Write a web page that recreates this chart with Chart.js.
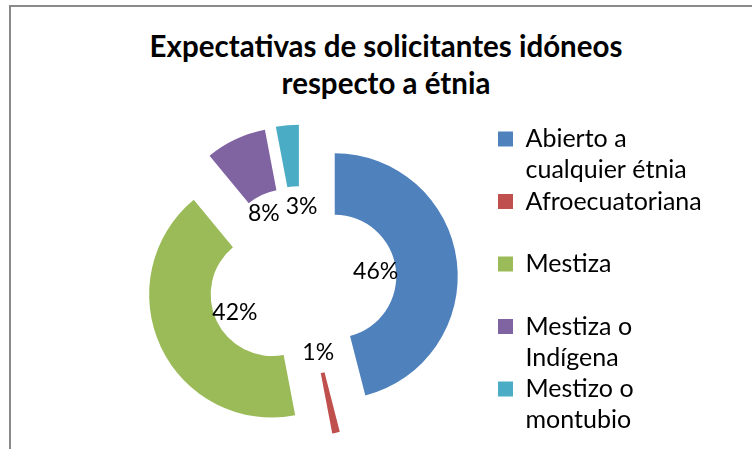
<!DOCTYPE html>
<html>
<head>
<meta charset="utf-8">
<script src="https://cdn.jsdelivr.net/npm/chart.js@4.4.1/dist/chart.umd.min.js"></script>
<style>
  html, body { margin: 0; padding: 0; background: #fff; overflow: hidden; }
  #wrap { position: relative; width: 752px; height: 449px; overflow: hidden; }
  #frame {
    position: absolute; left: 9px; top: 5px; width: 800px; height: 500px;
    border-top: 2px solid #8a8a8a; border-left: 2px solid #8a8a8a;
  }
  #title {
    position: absolute; left: 20px; width: 732px; top: 27px;
    text-align: center; font: bold 29.5px/37px Lato, sans-serif; color: #000;
  }
  canvas { position: absolute; left: 0; top: 0; }
</style>
</head>
<body>
<div id="wrap">
  <div id="frame"></div>
  <div id="title">Expectativas de solicitantes idóneos<br>respecto a étnia</div>
  <canvas id="myChart" width="752" height="449"></canvas>
</div>
<script>
const categories = [
  "Abierto a cualquier étnia",
  "Afroecuatoriana",
  "Mestiza",
  "Mestiza o Indígena",
  "Mestizo o montubio",
];
const values = [46, 1, 42, 8, 3];
const sliceColors = ["#4f81bd", "#c0504d", "#9bbb59", "#8064a2", "#4bacc6"];

const sumArray = (array) => array.reduce((total, num) => total + num, 0);

// every slice is pulled out of the ring by the same distance (like excel's point explosion)
const explode = 33;

// excel wraps legend text at ~16 chars and gives every entry two lines
function wrapLabel(text) {
  let lines = [];
  let line = "";
  for (const word of text.split(" ")) {
    if (line && (line + " " + word).length > 16) {
      lines.push(line);
      line = word;
    } else {
      line = line ? line + " " + word : word;
    }
  }
  lines.push(line);
  while (lines.length < 2) lines.push("");
  return lines;
}

const explodedSlices = {
  id: "explodedSlices",
  beforeDatasetDraw(chart, args) {
    const ctx = chart.ctx;
    const total = sumArray(values);
    const arcs = args.meta.data;

    arcs.forEach((arc) => {
      const mid = (arc.startAngle + arc.endAngle) / 2;
      ctx.save();
      ctx.translate(Math.cos(mid) * explode, Math.sin(mid) * explode);
      arc.draw(ctx);
      ctx.restore();
    });

    ctx.save();
    ctx.fillStyle = "#000";
    ctx.font = "23px Lato";
    ctx.textAlign = "center";
    ctx.textBaseline = "middle";

    let labels = arcs.map((arc, i) => {
      const mid = (arc.startAngle + arc.endAngle) / 2;
      const r = explode + arc.innerRadius * 0.67;
      const text = Math.round((values[i] / total) * 100) + "%";
      return {
        text: text,
        x: arc.x + Math.cos(mid) * r,
        y: arc.y + Math.sin(mid) * r,
        w: ctx.measureText(text).width,
      };
    });

    // push neighbouring labels apart when they collide
    for (let i = 0; i < labels.length; i++) {
      const a = labels[i];
      const b = labels[(i + 1) % labels.length];
      const dx = b.x - a.x;
      const need = (a.w + b.w) / 2 + 6;
      if (Math.abs(dx) < need && Math.abs(b.y - a.y) < 23) {
        const shift = (need - Math.abs(dx)) / 2;
        const dir = dx >= 0 ? 1 : -1;
        a.x -= shift * dir;
        b.x += shift * dir;
      }
    }

    for (const label of labels) {
      ctx.fillText(label.text, label.x, label.y);
    }
    ctx.restore();
    return false;
  },
};

new Chart("myChart", {
  type: "doughnut",
  data: {
    labels: categories,
    datasets: [
      {
        data: values,
        backgroundColor: sliceColors,
        borderWidth: 0,
      },
    ],
  },
  plugins: [explodedSlices],
  options: {
    responsive: false,
    animation: false,
    radius: 123,
    cutout: "50%",
    layout: {
      padding: { left: 106, right: 41, top: 122, bottom: 10 },
    },
    plugins: {
      tooltip: { enabled: false },
      title: { display: false },
      legend: {
        position: "right",
        align: "end",
        maxWidth: 213,
        labels: {
          boxWidth: 15,
          boxHeight: 15,
          padding: 0,
          color: "#000",
          font: { family: "Lato", size: 25, lineHeight: 1.25 },
          generateLabels(chart) {
            const items = Chart.overrides.doughnut.plugins.legend.labels.generateLabels(chart);
            items.forEach((item) => {
              item.text = wrapLabel(item.text);
            });
            return items;
          },
        },
      },
    },
  },
});
</script>
</body>
</html>
